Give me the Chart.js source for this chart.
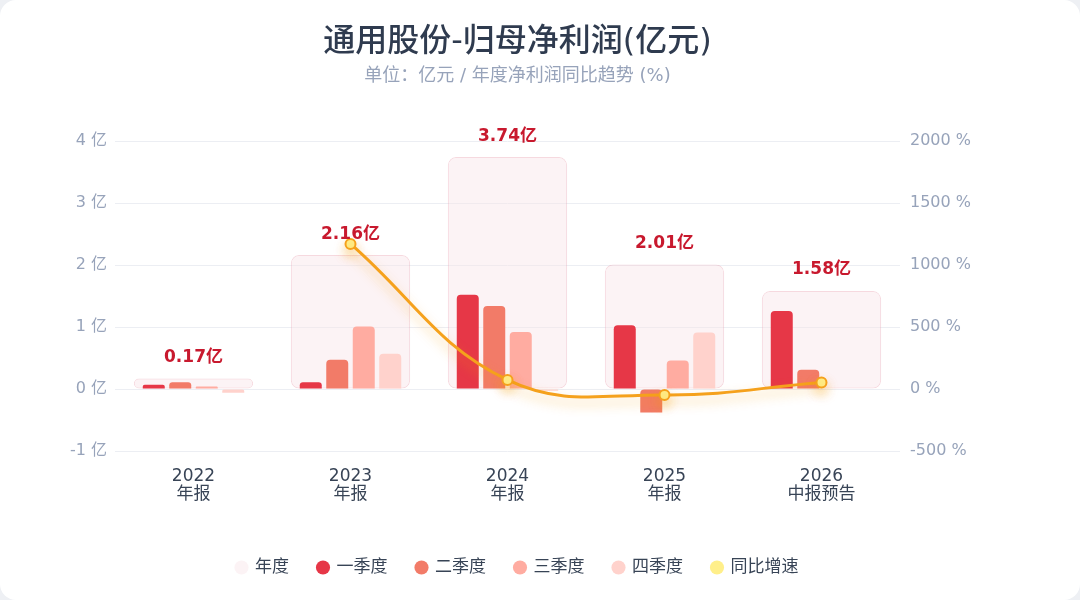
<!DOCTYPE html>
<html lang="zh-CN">
<head>
<meta charset="utf-8">
<title>通用股份-归母净利润</title>
<script src="https://cdn.jsdelivr.net/npm/chart.js@4.4.1/dist/chart.umd.min.js"></script>
<style>
  html, body { margin: 0; padding: 0; background: #eef0f4; }
  .card { width: 1080px; height: 600px; background: #fff; border-radius: 16px; overflow: hidden; position: relative; }
</style>
</head>
<body>
<div class="card"><canvas id="profitChart"></canvas></div>
<script>
// 报告期
const periods = [['2022', '年报'], ['2023', '年报'], ['2024', '年报'], ['2025', '年报'], ['2026', '中报预告']];
// 归母净利润 (亿元)
const annual = [0.17, 2.16, 3.74, 2.01, 1.58];
const q1 = [0.07, 0.11, 1.52, 1.03, 1.26];
const q2 = [0.11, 0.47, 1.34, -0.38, 0.31];
const q3 = [0.04, 1.01, 0.92, 0.46, null];
const q4 = [-0.06, 0.57, -0.03, 0.91, null];
// 同比增速 (%)
const yoy = [null, 1170, 73, -48, 53];
// 坐标轴范围 [min, max, step]
const leftAxis = [-1, 4, 1];
const rightAxis = [-500, 2000, 500];

const fontFamily = '"DejaVu Sans", "Noto Sans CJK SC", sans-serif';
Chart.defaults.font.family = fontFamily;

// 年度柱上方的数值
const annualLabels = {
  id: 'annualLabels',
  afterDatasetsDraw(chart) {
    const meta = chart.getDatasetMeta(0);
    const ctx = chart.ctx;
    ctx.save();
    ctx.font = 'bold 17px ' + fontFamily;
    ctx.fillStyle = '#c8192e';
    ctx.textAlign = 'center';
    ctx.textBaseline = 'middle';
    meta.data.forEach((bar, i) => {
      ctx.fillText(annual[i].toFixed(2) + '亿', bar.x, bar.y - 21);
    });
    ctx.restore();
  }
};

// 折线的发光效果
const lineGlow = {
  id: 'lineGlow',
  beforeDatasetDraw(chart, args) {
    if (args.meta.type !== 'line') return;
    const ctx = chart.ctx;
    ctx.save();
    ctx.shadowColor = 'rgba(245, 158, 11, 0.45)';
    ctx.shadowBlur = 12;
    ctx.shadowOffsetY = 6;
  },
  afterDatasetDraw(chart, args) {
    if (args.meta.type !== 'line') return;
    chart.ctx.restore();
  }
};

const quarterBar = {
  yAxisID: 'y',
  order: 1,
  categoryPercentage: 0.675,
  barPercentage: 0.83,
  borderRadius: { topLeft: 4, topRight: 4, bottomLeft: 0, bottomRight: 0 },
  borderSkipped: false
};

const ctx = document.getElementById('profitChart').getContext('2d');
const profitChart = new Chart(ctx, {
  type: 'bar',
  data: {
    labels: periods,
    datasets: [
      {
        label: '年度',
        data: annual,
        yAxisID: 'y',
        order: 2,
        grouped: false,
        backgroundColor: 'rgba(248, 228, 232, 0.45)',
        borderColor: 'rgba(236, 170, 185, 0.45)',
        borderWidth: 1,
        borderRadius: 8,
        borderSkipped: false,
        categoryPercentage: 1,
        barPercentage: 0.76
      },
      { ...quarterBar, label: '一季度', data: q1, backgroundColor: '#e63747' },
      { ...quarterBar, label: '二季度', data: q2, backgroundColor: '#f27b68' },
      { ...quarterBar, label: '三季度', data: q3, backgroundColor: '#ffaca1' },
      { ...quarterBar, label: '四季度', data: q4, backgroundColor: '#ffd2cc' },
      {
        type: 'line',
        label: '同比增速',
        data: yoy,
        yAxisID: 'y1',
        order: 0,
        borderColor: '#f5a11c',
        backgroundColor: '#fff59d',
        borderWidth: 3,
        tension: 0.4,
        pointRadius: 5,
        pointBorderWidth: 2,
        pointBackgroundColor: '#ffef8a',
        pointBorderColor: '#f5a11c',
        fill: false
      }
    ]
  },
  options: {
    responsive: true,
    maintainAspectRatio: false,
    animation: false,
    layout: { padding: { left: 0, right: 45, top: 0, bottom: 14 } },
    scales: {
      x: {
        offset: true,
        grid: { display: false, drawTicks: false },
        border: { display: false },
        ticks: { color: '#384456', font: { size: 17, lineHeight: 1.1 }, padding: 16 },
        afterFit(scale) { scale.height = 79; }
      },
      y: {
        position: 'left',
        min: leftAxis[0],
        max: leftAxis[1],
        grid: { color: '#eceef3', drawTicks: false },
        border: { display: false },
        ticks: {
          stepSize: leftAxis[2],
          color: '#97a3ba',
          font: { size: 16 },
          padding: 8,
          callback: v => v + ' 亿'
        },
        afterFit(scale) { scale.width = 115; }
      },
      y1: {
        position: 'right',
        min: rightAxis[0],
        max: rightAxis[1],
        grid: { display: false, drawTicks: false },
        border: { display: false },
        ticks: {
          stepSize: rightAxis[2],
          color: '#97a3ba',
          font: { size: 16 },
          padding: 10,
          callback: v => v + ' %'
        },
        afterFit(scale) { scale.width = 135; }
      }
    },
    plugins: {
      title: {
        display: true,
        text: '通用股份-归母净利润(亿元)',
        color: '#2f3b4f',
        font: { size: 32, weight: '500' },
        padding: { top: 23, bottom: 4 }
      },
      subtitle: {
        display: true,
        text: '单位：亿元 / 年度净利润同比趋势 (%)',
        color: '#97a3ba',
        font: { size: 18 },
        padding: { bottom: 54 }
      },
      legend: {
        position: 'bottom',
        labels: {
          usePointStyle: true,
          pointStyle: 'circle',
          boxWidth: 10,
          boxHeight: 10,
          padding: 29,
          color: '#384456',
          font: { size: 17 },
          sort: (a, b) => a.datasetIndex - b.datasetIndex,
          generateLabels(chart) {
            const items = Chart.defaults.plugins.legend.labels.generateLabels(chart);
            items.forEach(item => {
              item.lineWidth = 0;
              item.strokeStyle = 'rgba(0,0,0,0)';
            });
            return items;
          }
        }
      },
      tooltip: { enabled: false }
    }
  },
  plugins: [annualLabels, lineGlow]
});
</script>
</body>
</html>
